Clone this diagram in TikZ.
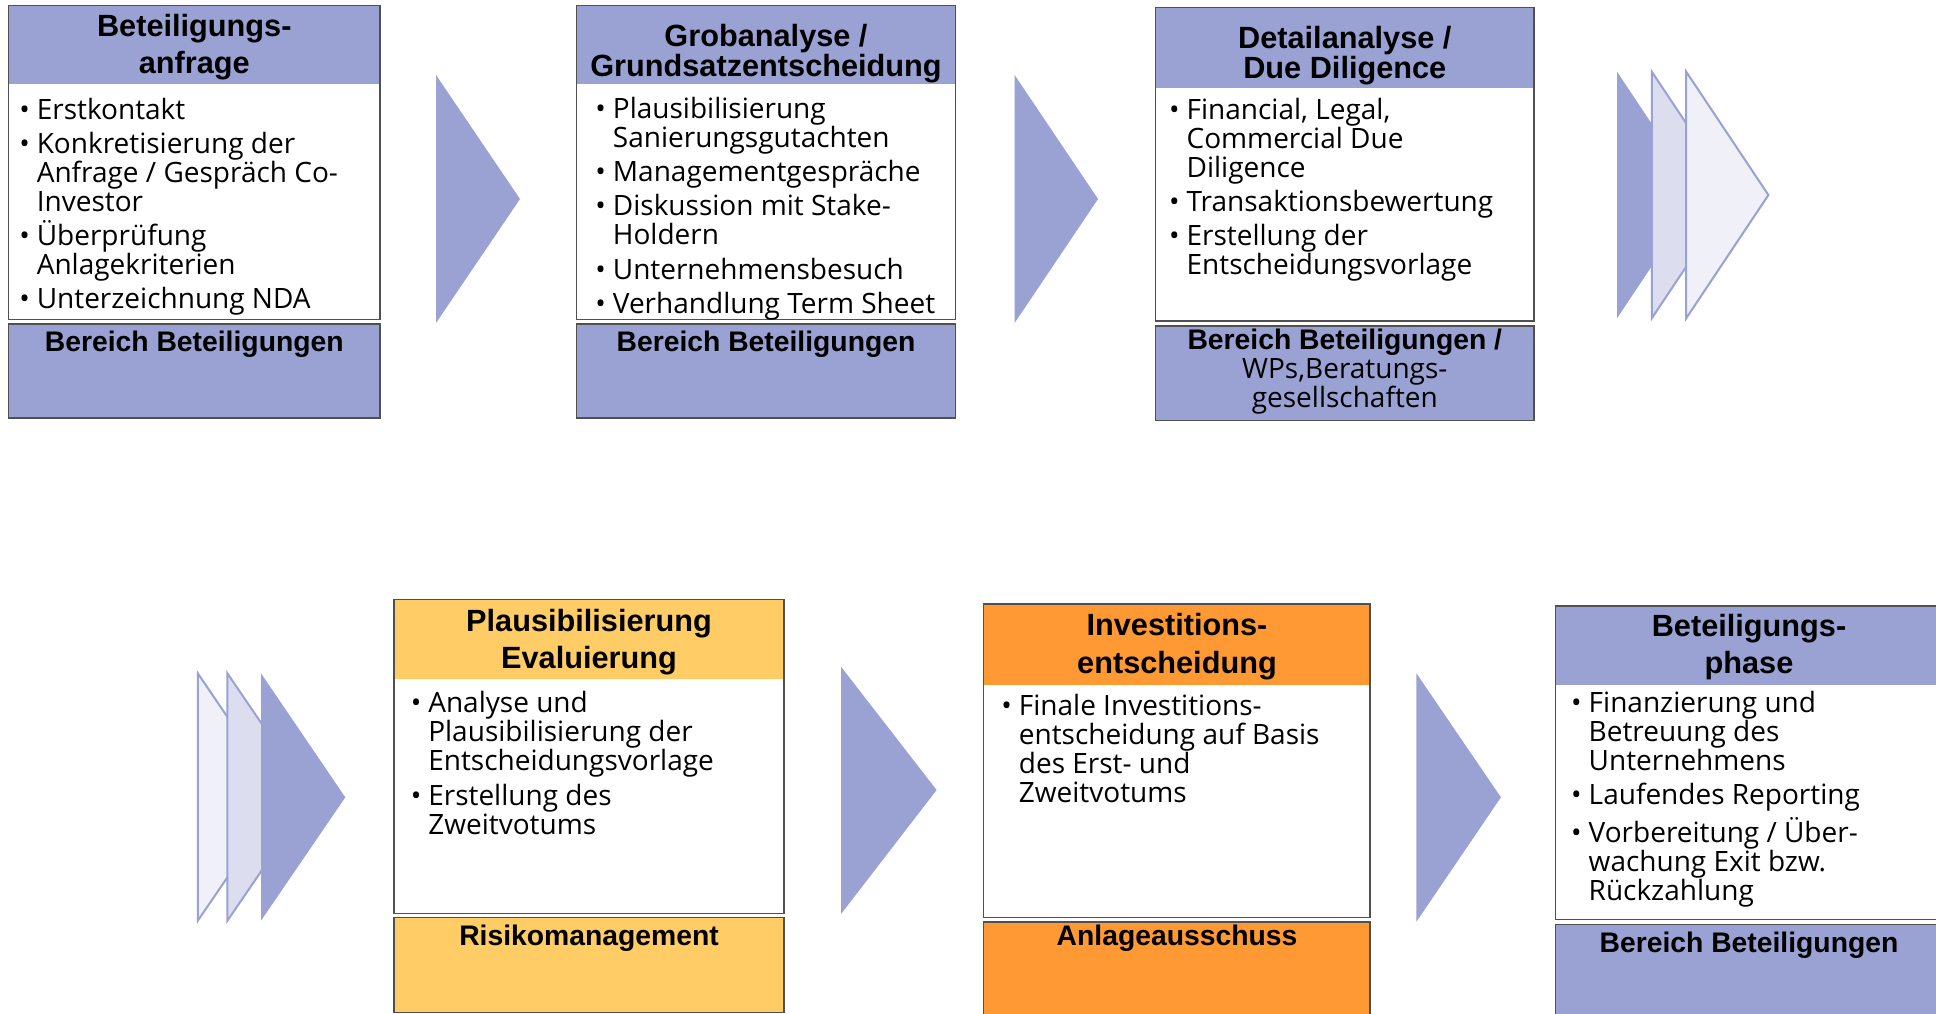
\documentclass[tikz,border=0pt]{standalone}
\usepackage{fontspec}
\setmainfont{Open Sans}
\newfontfamily\headfont{Liberation Sans}
\definecolor{lav}{RGB}{154,162,211}
\definecolor{lavmid}{RGB}{220,222,240}
\definecolor{lavlight}{RGB}{239,240,248}
\definecolor{yel}{RGB}{255,204,102}
\definecolor{ora}{RGB}{255,153,51}
\definecolor{edgegray}{RGB}{80,80,80}
\newcommand{\bodyfont}{\fontsize{28}{29}\selectfont}
\newcommand{\ttlfont}[1]{\headfont\bfseries\fontsize{30.7}{#1}\selectfont}
\newcommand{\labfont}{\headfont\bfseries\fontsize{28.3}{28.7}\selectfont}
\newcommand{\itm}{\leavevmode\llap{\textbullet\hspace{7pt}}}
\newcommand{\ig}{\\[5.3pt]}
\newcommand{\stagebox}[8]{%
  \fill[#8] (#1,#3) rectangle (#2,#4);
  \fill[white] (#1,#4) rectangle (#2,#5);
  \draw[boxedge] (#1,#3) rectangle (#2,#5);
  \fill[#8] (#1,#6) rectangle (#2,#7);
  \draw[boxedge] (#1,#6) rectangle (#2,#7);
}
\tikzset{
  boxedge/.style={draw=edgegray, line width=1.5pt},
  chevdark/.style={fill=lav},
  chevmid/.style={fill=lavmid, draw=lav, line width=2pt, line join=miter},
  chevlight/.style={fill=lavlight, draw=lav, line width=2pt, line join=miter},
  txt/.style={inner sep=0pt, outer sep=0pt},
}
\begin{document}
\begin{tikzpicture}[x=1pt,y=-1pt]
\useasboundingbox (0,0) rectangle (1936,1013);
\clip (0,0) rectangle (1936,1013);
\fill[white] (0,0) rectangle (1936,1013);

% ---------- boxes ----------
\stagebox{8.6}{380}{5.3}{84.3}{319.3}{324}{418}{lav}
\stagebox{576.4}{955.7}{5.3}{84.3}{319.3}{324}{418}{lav}
\stagebox{1155.4}{1534.2}{7.3}{87.7}{321}{326}{420.7}{lav}
\stagebox{393.9}{784.2}{599.3}{679.3}{913.3}{917.7}{1012.3}{yel}
\stagebox{983.7}{1370.2}{604}{684.7}{917.7}{922}{1030}{ora}
\stagebox{1555.6}{1950}{606}{685}{919.3}{924.3}{1030}{lav}

% ---------- arrows ----------
\path[chevdark] (436,75) -- (520,199) -- (436,323) -- cycle;
\path[chevdark] (1014.6,75) -- (1098,199) -- (1014.6,323) -- cycle;
% top triple
\path[chevdark] (1617,71.7) -- (1699.2,195) -- (1617,318.3) -- cycle;
\path[chevmid] (1651.8,71.7) -- (1734,195) -- (1651.8,318.3) -- cycle;
\path[chevlight] (1686.2,71.7) -- (1768.4,195) -- (1686.2,318.3) -- cycle;
% bottom triple
\path[chevlight] (197.8,673.3) -- (282,797.3) -- (197.8,920.7) -- cycle;
\path[chevmid] (227.4,673.3) -- (311.7,797.3) -- (227.4,920.7) -- cycle;
\path[chevdark] (261,673.3) -- (345.3,797.3) -- (261,920.7) -- cycle;
\path[chevdark] (841,666.7) -- (936.6,790) -- (841,914) -- cycle;
\path[chevdark] (1416.4,673.3) -- (1500.9,797.3) -- (1416.4,921.7) -- cycle;

% ---------- titles ----------
\node[txt, anchor=base] (t1) at (194.3,36.7) {\parbox[t]{370pt}{\centering\ttlfont{36.6}Beteiligungs-\\anfrage}};
\node[txt, anchor=base] (t2) at (766,46.7) {\parbox[t]{378pt}{\centering\ttlfont{30}Grobanalyse /\\Grundsatzentscheidung}};
\node[txt, anchor=base] (t3) at (1344.8,48.3) {\parbox[t]{378pt}{\centering\ttlfont{30}Detailanalyse /\\Due Diligence}};
\node[txt, anchor=base] (t4) at (589,631.7) {\parbox[t]{388pt}{\centering\ttlfont{36.6}Plausibilisierung\\Evaluierung}};
\node[txt, anchor=base] (t5) at (1177,635) {\parbox[t]{385pt}{\centering\ttlfont{38.3}Investitions-\\entscheidung}};
\node[txt, anchor=base] (t6) at (1749,636.7) {\parbox[t]{388pt}{\centering\ttlfont{36.6}Beteiligungs-\\phase}};

% ---------- bodies ----------
\node[txt, anchor=base west] (b1) at (36.8,119) {\parbox[t]{340pt}{\raggedright\bodyfont
\itm Erstkontakt\ig
\itm Konkretisierung der\\Anfrage / Gespräch Co-\\Investor\ig
\itm Überprüfung\\Anlagekriterien\ig
\itm Unterzeichnung NDA}};
\node[txt, anchor=base west] (b2) at (612.9,118.3) {\parbox[t]{340pt}{\raggedright\bodyfont
\itm Plausibilisierung\\Sanierungsgutachten\ig
\itm Managementgespräche\ig
\itm Diskussion mit Stake-\\Holdern\ig
\itm Unternehmensbesuch\ig
\itm Verhandlung Term Sheet}};
\node[txt, anchor=base west] (b3) at (1186.6,119) {\parbox[t]{340pt}{\raggedright\bodyfont
\itm Financial, Legal,\\Commercial Due\\Diligence\ig
\itm Transaktionsbewertung\ig
\itm Erstellung der\\Entscheidungsvorlage}};
\node[txt, anchor=base west] (b4) at (428.3,712.7) {\parbox[t]{350pt}{\raggedright\bodyfont
\itm Analyse und\\Plausibilisierung der\\Entscheidungsvorlage\ig
\itm Erstellung des\\Zweitvotums}};
\node[txt, anchor=base west] (b5) at (1018.9,715) {\parbox[t]{350pt}{\raggedright\bodyfont
\itm Finale Investitions-\\entscheidung auf Basis\\des Erst- und\\Zweitvotums}};
\node[txt, anchor=base west] (b6) at (1588.7,712.3) {\parbox[t]{340pt}{\raggedright\bodyfont
\itm Finanzierung und\\Betreuung des\\Unternehmens\ig
\itm Laufendes Reporting\ig
\itm Vorbereitung / Über-\\wachung Exit bzw.\\Rückzahlung}};

% ---------- bottom labels ----------
\node[txt, anchor=base] (l1) at (194.3,351.7) {\labfont Bereich Beteiligungen};
\node[txt, anchor=base] (l2) at (766,351.7) {\labfont Bereich Beteiligungen};
\node[txt, anchor=base] (l3) at (1344.8,349.3) {\parbox[t]{378pt}{\centering\labfont Bereich Beteiligungen /\\{\normalfont\bodyfont WPs,Beratungs-\\gesellschaften}}};
\node[txt, anchor=base] (l4) at (589,945.7) {\labfont Risikomanagement};
\node[txt, anchor=base] (l5) at (1177,945.7) {\labfont Anlageausschuss};
\node[txt, anchor=base] (l6) at (1749,952.3) {\labfont Bereich Beteiligungen};
\end{tikzpicture}
\end{document}
